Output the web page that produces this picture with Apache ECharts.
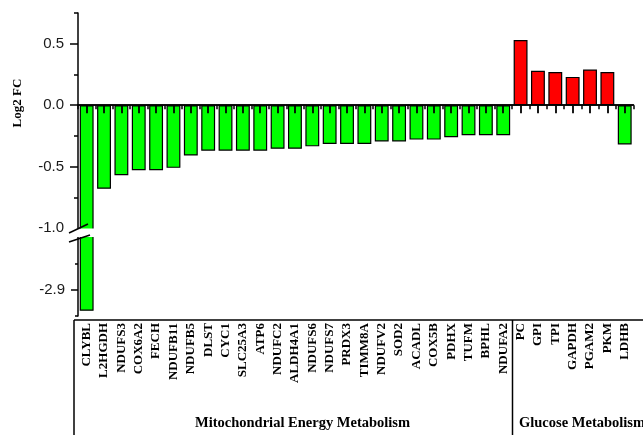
<!DOCTYPE html>
<html><head><meta charset="utf-8">
<script src="https://cdn.jsdelivr.net/npm/echarts@6/dist/echarts.min.js"></script>
<style>html,body{margin:0;padding:0;background:#fff}#c{width:643px;height:435px}</style>
</head><body><div id="c"></div>
<script>
const mitoCategories = ['CLYBL','L2HGDH','NDUFS3','COX6A2','FECH','NDUFB11','NDUFB5','DLST','CYC1','SLC25A3','ATP6','NDUFC2','ALDH4A1','NDUFS6','NDUFS7','PRDX3','TIMM8A','NDUFV2','SOD2','ACADL','COX5B','PDHX','TUFM','BPHL','NDUFA2'];
const glucoseCategories = ['PC','GPI','TPI','GAPDH','PGAM2','PKM','LDHB'];
const mitoValues = [-2.94,-0.68,-0.57,-0.53,-0.53,-0.51,-0.41,-0.37,-0.37,-0.37,-0.37,-0.355,-0.355,-0.335,-0.315,-0.315,-0.315,-0.295,-0.295,-0.28,-0.28,-0.26,-0.245,-0.245,-0.245];
const glucoseValues = [0.53,0.28,0.27,0.23,0.29,0.27,-0.32];
const groupNames = ['Mitochondrial Energy Metabolism','Glucose Metabolism'];
const upperLabelTicks = [-1.0,-0.5,0,0.5];
const upperMajorTicks = [-0.5,0,0.5];
const upperMinorTicks = [-0.75,-0.25,0.25,0.75];
const lowerMajorTicks = [-2.9];
const lowerMinorTicks = [-2.95,-2.85];
const yTitle = 'Log2 FC';

const categories = mitoCategories.concat(glucoseCategories);
const values = mitoValues.concat(glucoseValues);

const chart = echarts.init(document.getElementById('c'), null, {renderer:'canvas'});
const sans = 'Liberation Sans, Arial, sans-serif';
const serif = 'Liberation Serif, Times New Roman, serif';
const black = '#000';
const G = {left:78, width:555.4};
const barStyle = {
  color: p => p.value >= 0 ? '#ff0000' : '#00ff00',
  borderColor: black, borderWidth: 1.2
};
const fmt = v => v.toFixed(1);

chart.setOption({
  animation:false,
  backgroundColor:'#fff',
  grid:[
    {left:G.left, width:G.width, top:13, height:220},
    {left:G.left, width:G.width, top:232, height:84}
  ],
  xAxis:[
    {gridIndex:0, type:'category', data:categories, position:'bottom', zlevel:1, z:10,
     axisLine:{onZero:true, lineStyle:{color:black, width:1.6}},
     axisTick:{show:true, interval:0, alignWithLabel:true, length:8, lineStyle:{color:black, width:1.8}},
     axisLabel:{show:false, interval:0}},
    {gridIndex:0, type:'category', data:categories, position:'bottom', zlevel:1, z:10,
     axisLine:{onZero:true, lineStyle:{color:black, width:1.6}},
     axisTick:{show:true, interval:0, alignWithLabel:false, length:4, lineStyle:{color:black, width:1.5}},
     axisLabel:{show:false, interval:0}},
    {gridIndex:1, type:'category', data:categories, position:'bottom',
     axisLine:{show:false}, axisTick:{show:false},
     axisLabel:{interval:0, rotate:90, margin:7, color:black, fontFamily:serif, fontWeight:'bold', fontSize:13}}
  ],
  yAxis:[
    {gridIndex:0, type:'value', min:-1.04, max:0.75, position:'left', splitLine:{show:false},
     axisLine:{show:true, lineStyle:{color:black, width:1.5}},
     axisTick:{show:true, customValues:upperMajorTicks, length:8, lineStyle:{color:black, width:1.5}},
     axisLabel:{customValues:upperLabelTicks, formatter:fmt, margin:14, color:'#1a1a1a', fontFamily:sans, fontSize:15}},
    {gridIndex:0, type:'value', min:-1.04, max:0.75, position:'left', splitLine:{show:false},
     axisLine:{show:false},
     axisTick:{show:true, customValues:upperMinorTicks, length:4, lineStyle:{color:black, width:1.5}},
     axisLabel:{show:false}},
    {gridIndex:1, type:'value', min:-2.95, max:-2.79, position:'left', splitLine:{show:false},
     axisLine:{show:true, lineStyle:{color:black, width:1.5}},
     axisTick:{show:true, customValues:lowerMajorTicks, length:7, lineStyle:{color:black, width:1.5}},
     axisLabel:{customValues:lowerMajorTicks, formatter:fmt, margin:13, color:'#1a1a1a', fontFamily:sans, fontSize:15}},
    {gridIndex:1, type:'value', min:-2.95, max:-2.79, position:'left', splitLine:{show:false},
     axisLine:{show:false},
     axisTick:{show:true, customValues:lowerMinorTicks, length:3, lineStyle:{color:black, width:1.5}},
     axisLabel:{show:false}}
  ],
  series:[
    {type:'bar', xAxisIndex:0, yAxisIndex:0, data:values, barWidth:'80%', itemStyle:barStyle, z:2},
    {type:'bar', xAxisIndex:2, yAxisIndex:2, data:values, barWidth:'80%', itemStyle:barStyle, z:2}
  ],
  graphic:[
    {type:'rect', shape:{x:73, y:228.5, width:28, height:8.5}, style:{fill:'#fff'}, z:100},
    {type:'line', shape:{x1:69, y1:233, x2:88, y2:224}, style:{stroke:black, lineWidth:1.5}, z:101},
    {type:'line', shape:{x1:69, y1:242, x2:90, y2:235}, style:{stroke:black, lineWidth:1.5}, z:101},
    {type:'line', shape:{x1:74, y1:320, x2:643, y2:320}, style:{stroke:black, lineWidth:1.5}, z:50},
    {type:'line', shape:{x1:74, y1:320, x2:74, y2:435}, style:{stroke:black, lineWidth:1.5}, z:50},
    {type:'line', shape:{x1:512.5, y1:320, x2:512.5, y2:435}, style:{stroke:black, lineWidth:1.5}, z:50},
    {type:'text', x:18, y:103, rotation:Math.PI/2, z:50,
     style:{text:yTitle, x:0, y:0, align:'center', verticalAlign:'middle', fill:black, font:'bold 13px ' + serif}},
    {type:'text', x:195, y:423, z:50,
     style:{text:groupNames[0], align:'left', verticalAlign:'middle', fill:black, font:'bold 14.5px ' + serif}},
    {type:'text', x:519, y:423, z:50,
     style:{text:groupNames[1], align:'left', verticalAlign:'middle', fill:black, font:'bold 14.5px ' + serif}}
  ]
});
</script>
</body></html>
